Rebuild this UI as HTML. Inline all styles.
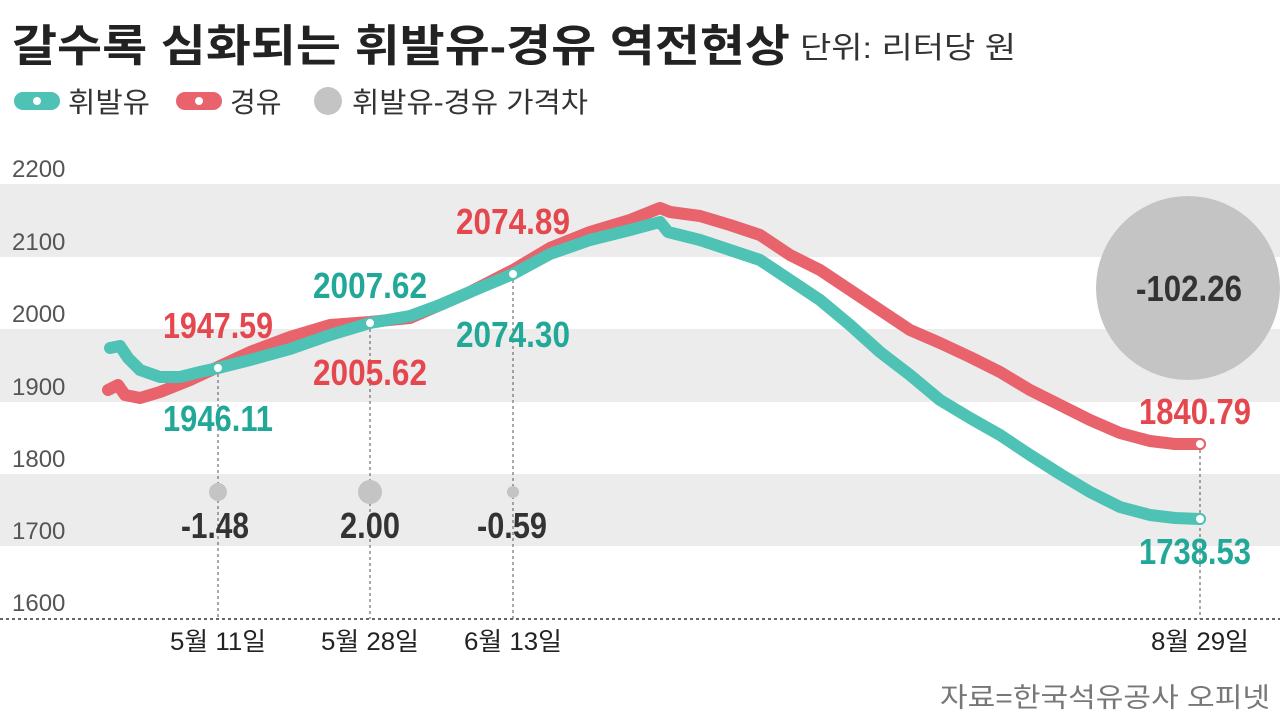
<!DOCTYPE html>
<html><head><meta charset="utf-8"><style>
body{margin:0;width:1280px;height:720px;background:#fff;overflow:hidden}
svg{display:block}
.k{font-family:"Liberation Sans","Noto Sans CJK KR",sans-serif}
.n{font-family:"Liberation Sans","Noto Sans CJK KR",sans-serif;font-weight:bold}
</style></head><body>
<svg width="1280" height="720" viewBox="0 0 1280 720">
<rect x="0" y="184" width="1280" height="73" fill="#ececec"/>
<rect x="0" y="329" width="1280" height="73" fill="#ececec"/>
<rect x="0" y="474" width="1280" height="72" fill="#ececec"/>
<g class="k" font-size="24" fill="#555">
<text x="12" y="177">2200</text><text x="12" y="250">2100</text><text x="12" y="322">2000</text>
<text x="12" y="395">1900</text><text x="12" y="467">1800</text><text x="12" y="539">1700</text><text x="12" y="611">1600</text>
</g>
<line x1="0" y1="619" x2="1280" y2="619" stroke="#333" stroke-width="1.5" stroke-dasharray="3,3"/>
<g stroke="#555" stroke-width="1" stroke-dasharray="3,3">
<line x1="218" y1="368" x2="218" y2="619"/><line x1="370" y1="323" x2="370" y2="619"/>
<line x1="513" y1="274" x2="513" y2="619"/><line x1="1200" y1="444" x2="1200" y2="619"/>
</g>
<polyline fill="none" stroke="#e8636b" stroke-width="12" stroke-linejoin="round" stroke-linecap="round" points="108,390 118,385 125,395 140,398 160,392 190,380 218,367 250,352 290,337 330,325 370,322 410,318 440,305 470,292 513,270 550,248 590,232 630,220 660,208 670,212 700,216 730,225 760,235 790,255 820,270 850,290 880,310 910,330 940,343 970,357 1000,372 1030,390 1060,405 1090,420 1120,433 1150,441 1175,444 1200,444"/>
<polyline fill="none" stroke="#4ec2b4" stroke-width="12" stroke-linejoin="round" stroke-linecap="round" points="110,348 120,346 128,358 140,370 160,377 180,377 200,372 218,368 250,360 290,349 330,335 370,323 410,316 440,305 470,292 513,274 550,254 590,240 630,230 660,222 668,232 700,240 730,250 760,260 790,280 820,300 850,325 880,352 910,375 940,400 970,418 1000,435 1030,455 1060,474 1090,492 1120,507 1150,515 1175,518 1200,519"/>
<g fill="#fff" stroke-width="2">
<circle cx="218" cy="368" r="5" stroke="#4ec2b4"/><circle cx="370" cy="323" r="5" stroke="#4ec2b4"/>
<circle cx="513" cy="274" r="5" stroke="#4ec2b4"/><circle cx="1200" cy="519" r="5" stroke="#4ec2b4"/>
<circle cx="1200" cy="444" r="5" stroke="#e8636b"/>
</g>
<g fill="#c4c4c4">
<circle cx="218" cy="492" r="9"/><circle cx="370" cy="492" r="12"/><circle cx="513" cy="492" r="6"/>
<circle cx="1188" cy="288" r="92"/>
</g>
<g class="n" font-size="36" text-anchor="middle">
<text x="218" y="338" fill="#e5474f" textLength="110" lengthAdjust="spacingAndGlyphs">1947.59</text>
<text x="218" y="431" fill="#22a898" textLength="110" lengthAdjust="spacingAndGlyphs">1946.11</text>
<text x="370" y="298" fill="#22a898" textLength="114" lengthAdjust="spacingAndGlyphs">2007.62</text>
<text x="370" y="385" fill="#e5474f" textLength="114" lengthAdjust="spacingAndGlyphs">2005.62</text>
<text x="513" y="234" fill="#e5474f" textLength="114" lengthAdjust="spacingAndGlyphs">2074.89</text>
<text x="513" y="347" fill="#22a898" textLength="114" lengthAdjust="spacingAndGlyphs">2074.30</text>
<text x="1195" y="424" fill="#e5474f" textLength="112" lengthAdjust="spacingAndGlyphs">1840.79</text>
<text x="1195" y="564" fill="#22a898" textLength="112" lengthAdjust="spacingAndGlyphs">1738.53</text>
<g fill="#333"><text x="215" y="538" textLength="68" lengthAdjust="spacingAndGlyphs">-1.48</text><text x="370" y="538" textLength="60" lengthAdjust="spacingAndGlyphs">2.00</text><text x="512" y="538" textLength="70" lengthAdjust="spacingAndGlyphs">-0.59</text>
<text x="1189" y="301" textLength="106" lengthAdjust="spacingAndGlyphs">-102.26</text></g>
</g>
<g class="k" font-size="25" fill="#222" text-anchor="middle">
<text x="218" y="650" textLength="96" lengthAdjust="spacingAndGlyphs">5월 11일</text><text x="370" y="650" textLength="98" lengthAdjust="spacingAndGlyphs">5월 28일</text><text x="513" y="650" textLength="98" lengthAdjust="spacingAndGlyphs">6월 13일</text><text x="1200" y="650" textLength="98" lengthAdjust="spacingAndGlyphs">8월 29일</text>
</g>
<text class="k" x="12" y="61" font-size="44" font-weight="bold" fill="#222" textLength="778" lengthAdjust="spacingAndGlyphs">갈수록 심화되는 휘발유-경유 역전현상</text>
<text class="k" x="800" y="58" font-size="30" fill="#333" textLength="216" lengthAdjust="spacingAndGlyphs">단위: 리터당 원</text>
<rect x="14" y="92" width="46" height="18" rx="9" fill="#4ec2b4"/><circle cx="37" cy="101" r="4" fill="#fff"/>
<text class="k" x="68" y="112" font-size="28" fill="#333" textLength="82" lengthAdjust="spacingAndGlyphs">휘발유</text>
<rect x="176" y="92" width="46" height="18" rx="9" fill="#e8636b"/><circle cx="199" cy="101" r="4" fill="#fff"/>
<text class="k" x="230" y="112" font-size="28" fill="#333">경유</text>
<circle cx="328" cy="101" r="14" fill="#c4c4c4"/>
<text class="k" x="352" y="112" font-size="28" fill="#333" textLength="236" lengthAdjust="spacingAndGlyphs">휘발유-경유 가격차</text>
<text class="k" x="1270" y="707" font-size="27" fill="#777" text-anchor="end" textLength="330" lengthAdjust="spacingAndGlyphs">자료=한국석유공사 오피넷</text>
</svg>
</body></html>
